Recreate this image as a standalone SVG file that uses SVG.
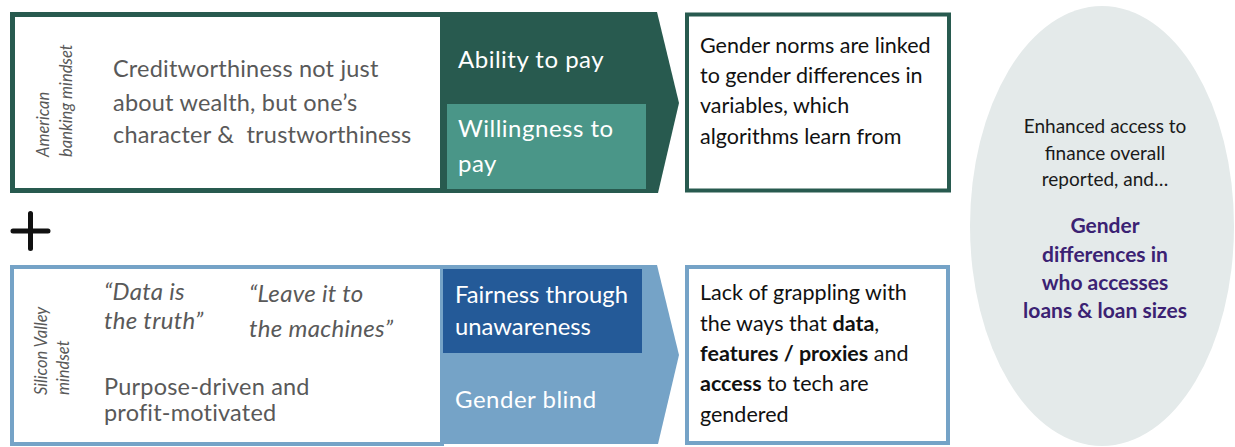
<svg xmlns="http://www.w3.org/2000/svg" width="1235" height="447" viewBox="0 0 1235 447">
  <style>
    text { font-family: Lato, "Open Sans", "Liberation Sans", sans-serif; }
    .side { font-size: 16.5px; font-style: italic; fill: #595959; }
    .body { font-size: 23.5px; letter-spacing: 0.2px; fill: #595959; }
    .quote { font-size: 24px; letter-spacing: 0.3px; font-style: italic; fill: #595959; }
    .light { font-size: 24px; letter-spacing: 0.5px; fill: #ffffff; }
    .light.compact { font-size: 23.8px; letter-spacing: 0; }
    .dark { font-size: 21.5px; fill: #111111; }
    .oval { font-size: 19px; fill: #1a1a1a; text-anchor: middle; }
    .result { font-size: 21px; font-weight: bold; fill: #3b2273; text-anchor: middle; }
    .green { stroke: #285a4f; }
    .blue { stroke: #75a3c7; }
  </style>

  <!-- Outcome oval -->
  <g id="outcome">
    <ellipse cx="1102" cy="226" rx="132" ry="220" fill="#e4eaea"/>
    <text class="oval" x="1105" y="133">Enhanced access to</text>
    <text class="oval" x="1105" y="160">finance overall</text>
    <text class="oval" x="1105" y="186">reported, and…</text>
    <text class="result" x="1105" y="233">Gender</text>
    <text class="result" x="1105" y="262">differences in</text>
    <text class="result" x="1105" y="290">who accesses</text>
    <text class="result" x="1105" y="318">loans &amp; loan sizes</text>
  </g>

  <!-- American banking mindset -->
  <g id="banking-mindset">
    <rect x="12.5" y="14.5" width="430" height="176" fill="#ffffff" class="green" stroke-width="5"/>
    <text class="side" transform="translate(49,157) rotate(-90)">American</text>
    <text class="side" transform="translate(72,157) rotate(-90)">banking mindset</text>
    <text class="body" x="113" y="77">Creditworthiness not just</text>
    <text class="body" x="113" y="111">about wealth, but one’s</text>
    <text class="body" x="113" y="143">character &amp;&#160; trustworthiness</text>
  </g>

  <g id="banking-arrow">
    <polygon points="441,12 657,12 679,103 658,193 441,193" fill="#285a4f"/>
    <text class="light" x="458" y="68">Ability to pay</text>
    <rect x="447" y="104" width="199" height="85" fill="#4a9688"/>
    <text class="light" x="458" y="137">Willingness to</text>
    <text class="light" x="458" y="172">pay</text>
  </g>

  <g id="banking-effect">
    <rect x="687" y="14.5" width="262" height="176" fill="#ffffff" class="green" stroke-width="4"/>
    <text class="dark" x="700" y="53">Gender norms are linked</text>
    <text class="dark" x="700" y="83">to gender differences in</text>
    <text class="dark" x="700" y="113">variables, which</text>
    <text class="dark" x="700" y="144">algorithms learn from</text>
  </g>

  <!-- Plus sign joining the two mindsets -->
  <g id="plus">
    <path d="M13,231 H48 M30.5,213.5 V248.5" stroke="#111111" stroke-width="5" stroke-linecap="round" fill="none"/>
  </g>

  <!-- Silicon Valley mindset -->
  <g id="valley-mindset">
    <rect x="12" y="267" width="430" height="177" fill="#ffffff" class="blue" stroke-width="4"/>
    <text class="side" transform="translate(47,395) rotate(-90)">Silicon Valley</text>
    <text class="side" transform="translate(69,395) rotate(-90)">mindset</text>
    <text class="quote" x="104" y="300">“Data is</text>
    <text class="quote" x="104" y="329">the truth”</text>
    <text class="quote" x="249" y="302">“Leave it to</text>
    <text class="quote" x="249" y="337">the machines”</text>
    <text class="body" x="104" y="395">Purpose-driven and</text>
    <text class="body" x="104" y="421">profit-motivated</text>
  </g>

  <g id="valley-arrow">
    <polygon points="440,265 657,265 679,355 658,444 440,444" fill="#75a3c7"/>
    <rect x="443" y="269" width="199" height="84" fill="#245a98"/>
    <text class="light compact" x="455" y="303">Fairness through</text>
    <text class="light compact" x="455" y="335">unawareness</text>
    <text class="light" x="455" y="408">Gender blind</text>
  </g>

  <g id="valley-effect">
    <rect x="687" y="267" width="261" height="176" fill="#ffffff" class="blue" stroke-width="4"/>
    <text class="dark" x="700" y="300">Lack of grappling with</text>
    <text class="dark" x="700" y="331">the ways that <tspan font-weight="bold">data</tspan>,</text>
    <text class="dark" x="700" y="361"><tspan font-weight="bold">features / proxies</tspan> and</text>
    <text class="dark" x="700" y="391"><tspan font-weight="bold">access</tspan> to tech are</text>
    <text class="dark" x="700" y="422">gendered</text>
  </g>
</svg>
